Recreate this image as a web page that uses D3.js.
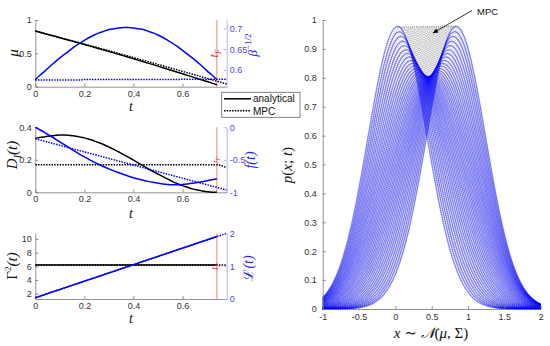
<!DOCTYPE html>
<html lang="en">
<head>
  <meta charset="UTF-8">
  <title>Analytical vs MPC densities</title>
  <script src="https://d3js.org/d3.v7.min.js"></script>
  <style>
    body { margin: 0; background: #fff; }
    svg { display: block; }
    text { font-family: "Liberation Sans", Arial, sans-serif; }
    .math { font-family: "Liberation Serif", "DejaVu Serif", serif; font-style: italic; }
  </style>
</head>
<body>
  <svg id="chart" width="550" height="346"></svg>
  <script>
    // time grids (analytical stops at t_F, MPC runs a bit longer)
    const tA = [0,0.02,0.04,0.06,0.08,0.1,0.12,0.14,0.16,0.18,0.2,0.22,0.24,0.26,0.28,0.3,0.32,0.34,0.36,0.38,
                0.4,0.42,0.44,0.46,0.48,0.5,0.52,0.54,0.56,0.58,0.6,0.62,0.64,0.66,0.68,0.7,0.72,0.74];
    const tM = [0,0.02,0.04,0.06,0.08,0.1,0.12,0.14,0.16,0.18,0.2,0.22,0.24,0.26,0.28,0.3,0.32,0.34,0.36,0.38,
                0.4,0.42,0.44,0.46,0.48,0.5,0.52,0.54,0.56,0.58,0.6,0.62,0.64,0.66,0.68,0.7,0.72,0.74,0.76,0.78];
    const tF = 0.74;

    // mean mu(t)
    const muA = [0.835,0.815,0.795,0.775,0.755,0.734,0.714,0.694,0.674,0.653,0.632,0.612,0.591,0.570,0.549,0.528,0.507,0.485,0.463,0.442,
                 0.420,0.398,0.375,0.353,0.331,0.308,0.285,0.263,0.240,0.217,0.194,0.170,0.147,0.124,0.100,0.077,0.054,0.030];
    const muM = [0.835,0.815,0.796,0.776,0.757,0.737,0.717,0.698,0.678,0.658,0.638,0.619,0.599,0.579,0.559,0.539,0.519,0.498,0.478,0.458,
                 0.437,0.417,0.396,0.376,0.355,0.334,0.314,0.293,0.272,0.251,0.230,0.209,0.188,0.167,0.146,0.125,0.103,0.083,0.062,0.040];
    // beta^(-1/2)
    const betaA = [0.577,0.588,0.598,0.609,0.619,0.629,0.638,0.647,0.656,0.664,0.671,0.678,0.684,0.689,0.693,0.697,0.699,0.701,0.702,0.702,
                   0.701,0.699,0.697,0.693,0.689,0.684,0.678,0.671,0.664,0.656,0.647,0.638,0.629,0.619,0.609,0.598,0.588,0.577];
    const betaM = [0.576,0.576,0.576,0.576,0.576,0.576,0.576,0.576,0.576,0.576,0.577,0.577,0.577,0.577,0.577,0.577,0.577,0.577,0.577,0.577,
                   0.577,0.577,0.577,0.577,0.577,0.577,0.577,0.577,0.577,0.577,0.578,0.578,0.578,0.578,0.578,0.578,0.578,0.578,0.578,0.578];
    // D_I(t)
    const dA = [0.332,0.338,0.342,0.347,0.350,0.352,0.352,0.350,0.347,0.341,0.335,0.326,0.316,0.305,0.293,0.279,0.264,0.248,0.232,0.215,
                0.198,0.180,0.163,0.145,0.128,0.112,0.096,0.081,0.066,0.053,0.041,0.031,0.021,0.014,0.008,0.004,0.001,0.000];
    const tDM = [0, 0.74, 0.76, 0.78];
    const dM = [0.17, 0.17, 0.163, 0.150];
    // f(t)
    const fA = [0,-0.042,-0.085,-0.13,-0.176,-0.223,-0.272,-0.32,-0.367,-0.412,-0.455,-0.496,-0.535,-0.572,-0.607,-0.64,-0.67,-0.70,-0.727,-0.752,
                -0.775,-0.796,-0.815,-0.832,-0.846,-0.858,-0.872,-0.880,-0.884,-0.884,-0.880,-0.872,-0.862,-0.850,-0.836,-0.821,-0.806,-0.79];
    const tFM = [0, 0.78];
    const fM = [-0.176, -0.965];
    // Gamma^2(t) and L(t)
    const tGA = [0, 0.74], gA = [6.2, 6.2];
    const tGM = [0, 0.78], gM = [6.2, 6.2];
    const tLA = [0, 0.74], lA = [0.04, 1.90];
    const tLM = [0, 0.78], lM = [0.04, 2.0];

    const tTicks = [0, 0.2, 0.4, 0.6];
    const xTicksP = [-1, -0.5, 0, 0.5, 1, 1.5, 2];
    const yTicksP = [0, 0.1, 0.2, 0.3, 0.4, 0.5, 0.6, 0.7, 0.8, 0.9, 1];

    const svg = d3.select("#chart");
    const BLUE = "#0000ff";
    const xT = d3.scaleLinear().domain([0, 0.78]).range([35.3, 226.7]);

    function styleAxis(g, lineCol, textCol) {
      g.select(".domain").attr("stroke", lineCol).attr("stroke-width", 0.8);
      g.selectAll(".tick line").attr("stroke", lineCol).attr("stroke-width", 0.8);
      g.selectAll(".tick text").attr("fill", textCol).attr("font-size", 9)
        .attr("font-family", '"Liberation Sans", Arial, sans-serif');
    }

    function addLabel(parent, x, y, parts, opts) {
      const t = parent.append("text").attr("class", "math")
        .attr("transform", `translate(${x},${y})` + (opts.rotate ? " rotate(-90)" : ""))
        .attr("text-anchor", "middle").attr("font-size", opts.size)
        .attr("fill", opts.color || "#111");
      parts.forEach(p => {
        const s = t.append("tspan").text(p.s);
        if (p.dy) s.attr("dy", p.dy);
        if (p.fs) s.attr("font-size", p.fs);
        if (p.up === false) s.attr("font-style", "normal");
      });
      return t;
    }

    const panels = [
      { top: 20, bottom: 86.7, left: [0, 1], right: [0.56, 0.72], lt: [0, 0.5, 1], rt: [0.6, 0.65, 0.7],
        series: [
          { t: tA, v: muA, side: "L", col: "#000", dash: null },
          { t: tM, v: muM, side: "L", col: "#000", dash: "1.5,1.2" },
          { t: tA, v: betaA, side: "R", col: BLUE, dash: null },
          { t: tM, v: betaM, side: "R", col: BLUE, dash: "1.5,1.2" }
        ],
        tfSize: 12, tlab: 110.5 },
      { top: 127.3, bottom: 192.3, left: [0, 0.4], right: [-1, 0], lt: [0, 0.2, 0.4], rt: [-1, -0.5, 0],
        series: [
          { t: tA, v: dA, side: "L", col: "#000", dash: null },
          { t: tDM, v: dM, side: "L", col: "#000", dash: "1.5,1.2" },
          { t: tA, v: fA, side: "R", col: BLUE, dash: null },
          { t: tFM, v: fM, side: "R", col: BLUE, dash: "1.5,1.2" }
        ],
        tfSize: 8, tlab: 217.5 },
      { top: 233.3, bottom: 299, left: [1.225, 10.83], right: [0, 2], lt: [2, 4, 6, 8, 10], rt: [0, 1, 2],
        series: [
          { t: tGA, v: gA, side: "L", col: "#000", dash: null },
          { t: tGM, v: gM, side: "L", col: "#000", dash: "1.5,1.2" },
          { t: tLA, v: lA, side: "R", col: BLUE, dash: null },
          { t: tLM, v: lM, side: "R", col: BLUE, dash: "1.5,1.2" }
        ],
        tfSize: 10, tlab: 323 }
    ];

    panels.forEach(p => {
      const g = svg.append("g");
      const yL = d3.scaleLinear().domain(p.left).range([p.bottom, p.top]);
      const yR = d3.scaleLinear().domain(p.right).range([p.bottom, p.top]);

      // t_F marker
      g.append("line").attr("x1", xT(tF)).attr("x2", xT(tF))
        .attr("y1", p.top).attr("y2", p.bottom)
        .attr("stroke", "#f07070").attr("stroke-width", 0.9);

      g.append("g").attr("transform", `translate(0,${p.bottom})`)
        .call(d3.axisBottom(xT).tickValues(tTicks).tickSize(-3).tickSizeOuter(0).tickPadding(3.5).tickFormat(d => String(d)))
        .call(a => styleAxis(a, "#777", "#333"));
      g.append("g").attr("transform", `translate(${xT(0)},0)`)
        .call(d3.axisLeft(yL).tickValues(p.lt).tickSize(-3).tickSizeOuter(0).tickPadding(3.5).tickFormat(d => String(d)))
        .call(a => styleAxis(a, "#777", "#333"));

      const ln = d3.line().curve(d3.curveMonotoneX);
      p.series.forEach(s => {
        const y = s.side === "L" ? yL : yR;
        g.append("path")
          .datum(s.t.map((t, i) => [xT(t), y(s.v[i])]))
          .attr("d", ln)
          .attr("fill", "none").attr("stroke", s.col)
          .attr("stroke-width", 1.5)
          .attr("stroke-dasharray", s.dash);
      });

      g.append("g").attr("transform", `translate(${xT(0.78)},0)`)
        .call(d3.axisRight(yR).tickValues(p.rt).tickSize(-3).tickSizeOuter(0).tickPadding(3).tickFormat(d => String(d)))
        .call(a => styleAxis(a, "#a0a0ff", "#4a4aef"));

      // t_F label
      const tf = g.append("text").attr("class", "math")
        .attr("transform", `translate(${xT(tF) + 1},${(p.top + p.bottom) / 2}) rotate(-90)`)
        .attr("text-anchor", "middle").attr("font-size", p.tfSize).attr("fill", "#e83030");
      tf.append("tspan").text("t");
      tf.append("tspan").text("F").attr("dy", p.tfSize * 0.25).attr("font-size", p.tfSize * 0.7);

      addLabel(svg, 131, p.tlab, [{ s: "t" }], { size: 14 });
    });

    // left-hand y labels
    addLabel(svg, 18, 53, [{ s: "μ" }], { size: 15, rotate: true });
    addLabel(svg, 17, 155, [{ s: "D" }, { s: "I", dy: 4, fs: 10 }, { s: "(t)", dy: -4 }], { size: 15, rotate: true });
    addLabel(svg, 17, 266, [{ s: "Γ", up: false }, { s: "2", dy: -6, fs: 9, up: false }, { s: "(t)", dy: 6 }], { size: 15, rotate: true });
    // right-hand y labels
    addLabel(svg, 257, 45, [{ s: "β" }, { s: "−1/2", dy: -6, fs: 9, up: false }], { size: 13, rotate: true, color: "#2424e8" });
    addLabel(svg, 255, 160, [{ s: "f" }, { s: "(t)" }], { size: 14, rotate: true, color: "#2424e8" });
    addLabel(svg, 253, 268, [{ s: "ℒ", up: false }, { s: "(t)" }], { size: 14, rotate: true, color: "#2424e8" });

    // legend
    const lg = svg.append("g");
    lg.append("rect").attr("x", 221.7).attr("y", 92.3).attr("width", 78.3).attr("height", 25)
      .attr("fill", "#fff").attr("stroke", "#666").attr("stroke-width", 0.8);
    lg.append("line").attr("x1", 224).attr("x2", 251).attr("y1", 98.8).attr("y2", 98.8)
      .attr("stroke", "#000").attr("stroke-width", 1.5);
    lg.append("line").attr("x1", 224).attr("x2", 251).attr("y1", 110.8).attr("y2", 110.8)
      .attr("stroke", "#000").attr("stroke-width", 1.5).attr("stroke-dasharray", "1.5,1.2");
    lg.append("text").attr("x", 253).attr("y", 102.3).attr("font-size", 10).attr("fill", "#111").text("analytical");
    lg.append("text").attr("x", 253).attr("y", 114.5).attr("font-size", 10).attr("fill", "#111").text("MPC");

    // right panel: densities p(x;t)
    const xP = d3.scaleLinear().domain([-1, 2]).range([322.7, 540.7]);
    const yP = d3.scaleLinear().domain([0, 1]).range([309, 20]);
    const xs = d3.range(-1, 2.0001, 0.02);
    const gauss = (mu, sd) => xs.map(x => [xP(x), yP(Math.exp(-0.5 * ((x - mu) / sd) ** 2) / (sd * Math.sqrt(2 * Math.PI)))]);
    const lineP = d3.line();
    const rp = svg.append("g");

    rp.selectAll("path.mpc").data(muM.map((m, i) => gauss(m, betaM[i] / Math.SQRT2)))
      .join("path").attr("class", "mpc").attr("d", lineP)
      .attr("fill", "none").attr("stroke", "#555").attr("stroke-width", 0.6)
      .attr("stroke-dasharray", "1,1.2").attr("opacity", 0.6);
    rp.selectAll("path.ana").data(muA.map((m, i) => gauss(m, betaA[i] / Math.SQRT2)))
      .join("path").attr("class", "ana").attr("d", lineP)
      .attr("fill", "none").attr("stroke", BLUE).attr("stroke-width", 1.3).attr("opacity", 0.45);

    rp.append("g").attr("transform", "translate(0,309)")
      .call(d3.axisBottom(xP).tickValues(xTicksP).tickSize(-3).tickSizeOuter(0).tickPadding(5).tickFormat(d => String(d)))
      .call(a => styleAxis(a, "#777", "#333"));
    rp.append("g").attr("transform", `translate(${xP(-1)},0)`)
      .call(d3.axisLeft(yP).tickValues(yTicksP).tickSize(-3).tickSizeOuter(0).tickPadding(6).tickFormat(d => String(d)))
      .call(a => styleAxis(a, "#777", "#333"));

    addLabel(svg, 292, 165, [{ s: "p" }, { s: "(" , up: false }, { s: "x" }, { s: "; ", up: false }, { s: "t" }, { s: ")", up: false }], { size: 15, rotate: true });
    addLabel(svg, 431, 338, [{ s: "x" }, { s: " ∼ ", up: false }, { s: "𝒩" }, { s: "(", up: false }, { s: "μ" }, { s: ", Σ)", up: false }], { size: 15 });

    // MPC annotation
    svg.append("defs").append("marker").attr("id", "ah").attr("viewBox", "0 0 10 10")
      .attr("refX", 9).attr("refY", 5).attr("markerWidth", 7).attr("markerHeight", 7).attr("orient", "auto")
      .append("path").attr("d", "M0,1 L10,5 L0,9 Z").attr("fill", "#000");
    svg.append("line").attr("x1", 472).attr("y1", 10.5).attr("x2", 433).attr("y2", 33)
      .attr("stroke", "#000").attr("stroke-width", 0.8).attr("marker-end", "url(#ah)");
    svg.append("text").attr("x", 477).attr("y", 14.5).attr("font-size", 9.5).attr("fill", "#111").text("MPC");
  </script>
</body>
</html>
